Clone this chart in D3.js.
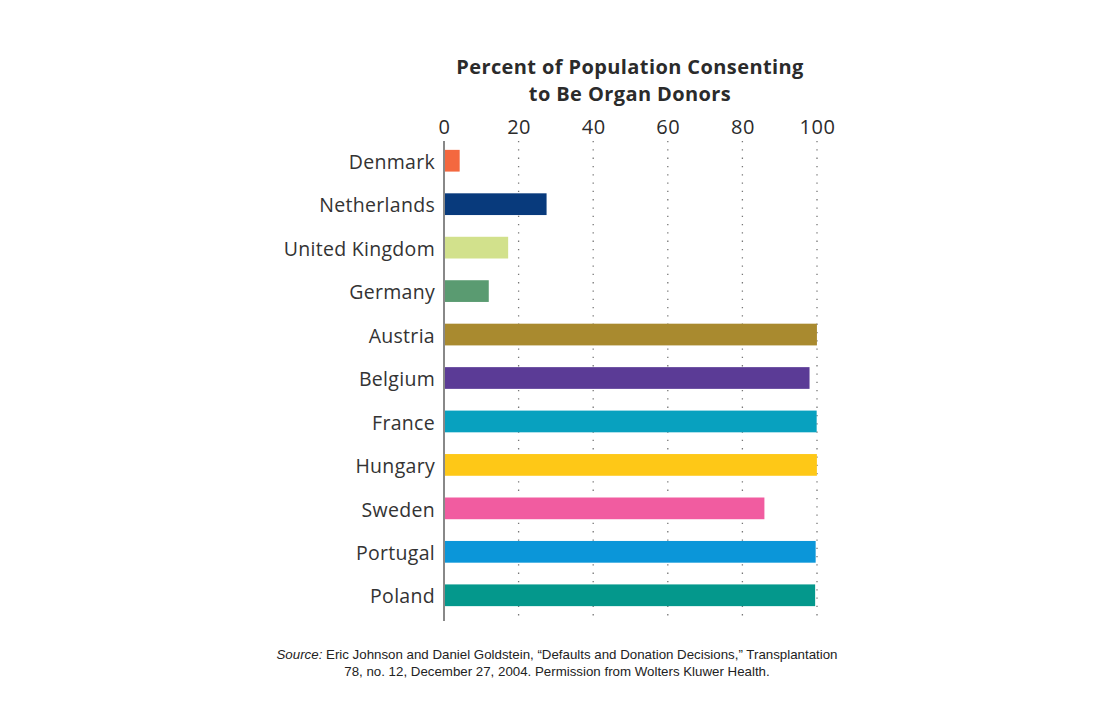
<!DOCTYPE html>
<html lang="en">
<head>
<meta charset="utf-8">
<title>Percent of Population Consenting to Be Organ Donors</title>
<script src="https://d3js.org/d3.v7.min.js"></script>
<style>
  body { margin: 0; background: #fff; }
  svg { display: block; }
</style>
</head>
<body>
<div id="chart"></div>
<script>
// data
var countries = ["Denmark", "Netherlands", "United Kingdom", "Germany", "Austria", "Belgium",
                 "France", "Hungary", "Sweden", "Portugal", "Poland"];
var consent = [4.2, 27.5, 17.2, 12, 99.98, 98, 99.91, 99.97, 85.9, 99.64, 99.5];
var barColors = ["#f4683f", "#083a7c", "#d2e18c", "#5a9b71", "#a98a2f", "#5b3b96",
                 "#08a1bf", "#fec817", "#f15ca0", "#0b96d9", "#04988c"];
var xTicks = [0, 20, 40, 60, 80, 100];
var titleLines = ["Percent of Population Consenting", "to Be Organ Donors"];

var w = 1116, h = 725;
var svg = d3.select("#chart").append("svg")
  .attr("width", w)
  .attr("height", h);

var x = d3.scaleLinear().domain([0, 100]).range([444, 817]);
var y = d3.scaleBand().domain(countries).range([139, 617]).paddingInner(0.5).paddingOuter(0.25);

// title
svg.append("g").selectAll("text")
  .data(titleLines)
  .enter().append("text")
  .attr("x", 630)
  .attr("y", function(d, i) { return 74 + i * 27; })
  .attr("text-anchor", "middle")
  .style("font-family", "'Open Sans', sans-serif")
  .style("font-weight", "bold")
  .style("font-size", "20px")
  .style("letter-spacing", "0.4px")
  .style("fill", "#2b2b2b")
  .text(function(d) { return d; });

// dotted grid lines
svg.append("g").selectAll("line")
  .data(xTicks.slice(1))
  .enter().append("line")
  .attr("x1", function(d) { return x(d); })
  .attr("x2", function(d) { return x(d); })
  .attr("y1", 141)
  .attr("y2", 620)
  .style("stroke", "#777")
  .style("stroke-width", 1.3)
  .style("stroke-dasharray", "1.3,7");

// top axis
var xAxis = svg.append("g")
  .attr("transform", "translate(0,134)")
  .call(d3.axisTop(x).tickValues(xTicks).tickSize(0).tickPadding(0));
xAxis.select(".domain").remove();
xAxis.selectAll("text")
  .style("font-family", "'Open Sans', sans-serif")
  .style("font-size", "20px")
  .style("letter-spacing", "0.5px")
  .style("fill", "#2b2b2b");

// bars
svg.append("g").selectAll("rect")
  .data(countries)
  .enter().append("rect")
  .attr("x", x(0))
  .attr("y", function(d) { return y(d); })
  .attr("width", function(d, i) { return x(consent[i]) - x(0); })
  .attr("height", y.bandwidth())
  .style("fill", function(d, i) { return barColors[i]; });

// left axis
var yAxis = svg.append("g")
  .attr("transform", "translate(" + x(0) + ",0)")
  .call(d3.axisLeft(y).tickSize(0).tickPadding(9));
yAxis.select(".domain").remove();
yAxis.selectAll("text")
  .attr("dy", "0.42em")
  .style("font-family", "'Open Sans', sans-serif")
  .style("font-size", "19.5px")
  .style("letter-spacing", "0.3px")
  .style("fill", "#333");

svg.append("line")
  .attr("x1", x(0)).attr("x2", x(0))
  .attr("y1", 141).attr("y2", 621)
  .style("stroke", "#888")
  .style("stroke-width", 2);

// source note
var src = svg.append("text")
  .attr("x", 557)
  .attr("y", 659)
  .attr("text-anchor", "middle")
  .style("font-family", "'Liberation Sans', Arial, sans-serif")
  .style("font-size", "13.3px")
  .style("fill", "#222");
src.append("tspan").style("font-style", "italic").text("Source:");
src.append("tspan").text(" Eric Johnson and Daniel Goldstein, \u201cDefaults and Donation Decisions,\u201d Transplantation");
svg.append("text")
  .attr("x", 557)
  .attr("y", 676)
  .attr("text-anchor", "middle")
  .style("font-family", "'Liberation Sans', Arial, sans-serif")
  .style("font-size", "13.3px")
  .style("fill", "#222")
  .text("78, no. 12, December 27, 2004. Permission from Wolters Kluwer Health.");
</script>
</body>
</html>
